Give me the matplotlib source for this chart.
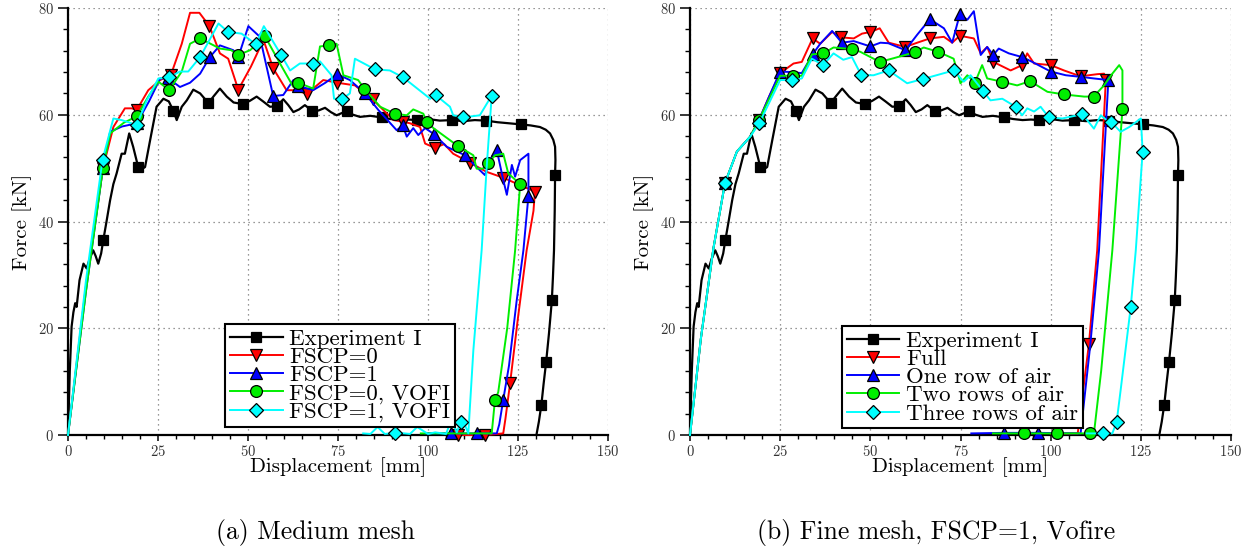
import numpy as np
import matplotlib
matplotlib.use("Agg")
import matplotlib.pyplot as plt
from matplotlib.lines import Line2D
from matplotlib.ticker import MultipleLocator

plt.rcParams['font.family'] = ['cmr10', 'DejaVu Serif']
plt.rcParams['mathtext.fontset'] = 'cm'
plt.rcParams['axes.unicode_minus'] = False
plt.rcParams['axes.formatter.use_mathtext'] = True

# ---- Experiment I (same curve in both panels) ----
exp_x = [0, 0.5, 1, 1.5, 2, 2.4, 3.2, 4.3, 5.2, 6, 7, 7.7, 8.4, 9.2, 9.8, 10.7, 11.7, 12.6, 13.5,
         14.9, 15.8, 17, 18.1, 19.5, 20.5, 21.4, 22.8, 24.6, 26.5, 28, 29.3, 30.2, 31.6, 33, 34.8,
         36.7, 39, 40.5, 42.2, 44.1, 46, 48.5, 50.5, 52.4, 54.2, 56.1, 58, 59.8, 61.2, 62.6, 64.2,
         65.8, 67.9, 69.6, 71.4, 73, 74.6, 77.4, 79.2, 81.1, 84, 87.1, 89.6, 92.2, 94.5, 96.9, 100,
         103.3, 106.6, 109.8, 113, 116.1, 119.3, 122.5, 125.7, 128.5, 131.1, 132.7, 133.9, 134.8,
         135.3, 135.4, 135.3, 135.2, 135, 134.7, 134.4, 133.6, 132.8, 132.1, 131.5, 130.8, 130.2]
exp_y = [0, 12, 20.3, 23, 24.7, 24, 29, 32.1, 31.2, 33, 34.6, 33.5, 32.1, 34, 36.5, 40, 44, 47, 49,
         52.7, 52.7, 56.5, 54, 50.2, 49.8, 50.2, 55.2, 61.5, 63, 62.5, 60.7, 59, 61.5, 62.7, 64.7,
         64, 62.2, 63.5, 64.9, 63.4, 62.3, 62, 62.6, 63.4, 62.5, 61.5, 61.6, 62.9, 61.8, 60.5, 61,
         61.8, 60.7, 60.8, 61.3, 60.5, 59.9, 60.7, 60, 59.6, 59.8, 59.5, 59.2, 59, 59.1, 59, 59.2,
         58.9, 59, 58.8, 59, 58.9, 58.6, 58.4, 58.2, 58, 57.7, 57.2, 56.5, 55.3,
         54, 51.5, 48.8, 42, 34.6, 29.5, 25.2, 19, 13.6, 9.5, 5.7, 2.5, 0.3]
exp_mx = [9.8, 19.5, 29.3, 39, 48.5, 58, 67.9, 77.4, 87.1, 96.9, 106.6, 116.1, 125.7, 135.3, 134.4, 132.8, 131.5]
exp_my = [36.5, 50.2, 60.7, 62.2, 62, 61.6, 60.7, 60.7, 59.5, 59, 59, 58.9, 58.2, 48.8, 25.2, 13.6, 5.7]

# ---- (a) Medium mesh ----
a_red_x = [0, 5, 9.7, 12.6, 15.8, 17.7, 19.1, 22.3, 25.6, 28.6, 31.6, 33.9, 36.5, 39.3, 42.2, 44.5,
           47.3, 50.8, 54.3, 57, 60.7, 63.5, 66.3, 70.9, 74.8, 79.7, 84.6, 90.4, 93, 95, 97.8, 99.2,
           101.9, 104.5, 107, 111.7, 116.3, 120.9, 125.6, 129.7, 129.3, 127.4, 125, 122.8, 121.5,
           120.9, 115.8, 108.4, 107.5]
a_red_y = [0, 28, 50, 57.7, 61.2, 61.2, 60.9, 64.6, 66.5, 67.5, 73.3, 79.1, 79.1, 76.6, 71.5, 70.5,
           64.7, 69, 74, 68.7, 64.6, 64.6, 63.9, 66.5, 66, 65.5, 62.9, 59, 58.7, 58.4, 57.7, 54.6,
           53.8, 54.5, 52.7, 51, 49.3, 48.2, 46.8, 45.6, 42, 34.6, 22, 9.7, 3,
           0.3, 0, 0, 0]
a_red_mx = [9.7, 19.1, 28.6, 39.3, 47.3, 57, 66.3, 74.8, 84.6, 93, 101.9, 111.7, 120.9, 129.7, 122.8, 115.8, 108.4]
a_red_my = [50, 60.9, 67.5, 76.6, 64.7, 68.7, 63.9, 66, 62.9, 58.7, 53.8, 51, 48.2, 45.6, 9.7, 0, 0]

a_blue_x = [0, 5, 9.7, 11.7, 15, 19.1, 22.5, 25.6, 27.9, 31.1, 33.9, 36.7, 39.4, 42.2, 45.9, 47.3,
            50.1, 53.3, 57, 59.8, 62.6, 64, 68.1, 71.5, 74.8, 78.3, 82.5, 86.2, 91.3, 93, 94.1, 95.9,
            97.3, 99.2, 101.8, 105.2, 110.3, 113.5, 115.8, 117.7, 119.1, 120.9, 121.9, 123.3, 124.2,
            125.6, 127.9, 127.9, 126.5, 124.6, 122.5, 120.9, 119.8, 119.1, 113.7, 106.4, 99.2]
a_blue_y = [0, 27, 50, 56.8, 57.8, 58.4, 62.5, 66.8, 66.8, 65.2, 66, 67.7, 70.8, 73, 72.1, 70.8,
            76.6, 74.6, 63.5, 63.7, 66.5, 65.4, 64.6, 66, 67.6, 66.5, 64, 60.9, 57.1, 58, 55.9, 57.5,
            56.2, 57.5, 56.3, 54, 52.4, 50.2, 48.7, 52.1, 53.4, 47.8, 45, 50.6, 48.4,
            51.5, 52.7, 44.8, 34.6, 25, 13, 6.6, 2, 0.3, 0.3, 0.3, 0.3]
a_blue_mx = [9.7, 19.1, 27.9, 39.4, 47.3, 57, 64, 74.8, 82.5, 93, 101.8, 110.3, 119.1, 127.9, 120.9, 113.7, 106.4]
a_blue_my = [50, 58.4, 66.8, 70.8, 70.8, 63.5, 65.4, 67.6, 64, 58, 56.3, 52.4, 53.4, 44.8, 6.6, 0.3, 0.3]

a_green_x = [0, 5, 9.7, 11.7, 15.5, 19.1, 22.3, 25.1, 28.1, 31.6, 33.9, 36.7, 42.2, 45.3, 47.3, 50.6,
             54.7, 59.4, 62.6, 64, 68.1, 70, 72.6, 74.6, 76.5, 80.6, 82.3, 86.7, 90.8, 94.1, 95.9,
             98.7, 99.6, 101.5, 108.4, 112.6, 113.5, 115.2, 116.8, 118.6, 120.9, 122.3, 125.6, 124.2,
             122, 119.5, 118.6, 117.7, 110, 104, 98]
a_green_y = [0, 27, 50, 56.5, 58.5, 59.7, 63.4, 66.2, 64.6, 68.1, 73.3, 74.3, 72.4, 72.1, 71.2, 72.1,
             74.7, 69, 65.2, 66, 64.9, 72.8, 73, 73.3, 67.4, 66.5, 64.9, 61.5, 60.2, 59.9, 61,
             60.2, 58.7, 57.5, 54.1, 52.4, 49.9, 49.9, 50.9, 52.4, 52.7, 49, 47, 34.6,
             20, 8, 6.6, 0.3, 0.3, 0.3, 0.3]
a_green_mx = [9.7, 19.1, 28.1, 36.7, 47.3, 54.7, 64, 72.6, 82.3, 90.8, 99.6, 108.4, 116.8, 125.6, 118.6]
a_green_my = [50, 59.7, 64.6, 74.3, 71.2, 74.7, 66, 73, 64.9, 60.2, 58.7, 54.1, 50.9, 47, 6.6]

a_cyan_x = [0, 5, 9.6, 12.6, 14.9, 19.1, 21.9, 25.1, 28.1, 31.1, 33.4, 36.7, 41.8, 44.5, 48.2, 52.2,
            54.4, 59.2, 61.7, 64.4, 68.1, 70, 73.2, 73.9, 76.2, 78.3, 79.7, 85.3, 89.4, 93.1, 100.6,
            102.1, 106.1, 107, 109.8, 114.4, 117.7, 116.3, 114.9, 112.6, 111.2, 110.2, 109.1, 108,
            106.5, 105, 102, 100, 97, 95, 92, 90.8, 88, 86, 84, 82]
a_cyan_y = [0, 29, 51.6, 59.3, 59, 58.1, 62.7, 66.8, 67, 68.1, 68.1, 70.8, 77.1, 75.5, 75.2, 73.2,
            76.6, 71.2, 68.3, 69.6, 69.6, 70, 67.4, 63, 63, 64, 70.5, 68.5, 68.3, 67, 63,
            63.7, 61.5, 59.9, 59.5, 59.9, 63.6, 50.2, 34.6, 15.9, 0.3, 2, 2.5, 0.5,
            2.8, 0.2, 0.5, 0.2, 1.5, 0.2, 0.4, 0.4, 0.2, 1.5, 0.2, 0.3]
a_cyan_mx = [9.6, 19.1, 28.1, 36.7, 44.5, 52.2, 59.2, 68.1, 76.2, 85.3, 93.1, 102.1, 109.8, 117.7, 109.1, 90.8]
a_cyan_my = [51.6, 58.1, 67, 70.8, 75.5, 73.2, 71.2, 69.6, 63, 68.5, 67, 63.7, 59.5, 63.6, 2.5, 0.4]

# ---- (b) Fine mesh, FSCP=1, Vofire ----
b_red_x = [0, 3, 6.5, 9.7, 13, 16.7, 19.2, 22, 25, 28.7, 31, 34, 36.1, 39.4, 42, 45.4, 47.7, 50, 52.6,
           55.1, 59.7, 63, 66.5, 70.4, 72.7, 74.8, 78.7, 80.6, 82.4, 84.1, 88.9, 92.1, 93.5, 95.4,
           100, 103.7, 108.3, 112.9, 114.8, 115.3, 112.9, 110.6, 107.5, 100]
b_red_y = [0, 18, 35, 47.2, 53.1, 55.9, 59.1, 63.5, 67.8, 69.6, 69.9, 74.3, 73.3, 75.5, 74.5, 74.3, 75.2, 75.5, 76.2,
           73.5, 72.7, 73.5, 74.3, 74.6, 73.5, 74.8, 74.3, 71.5, 72.7, 69.9, 68.3, 69.3, 71.5, 69.6,
           69.3, 68.3, 67.2, 67.6, 67.7, 66.6, 34.6, 17, 0.3, 0.3]
b_red_mx = [9.7, 19.2, 25, 34, 42, 50, 59.7, 66.5, 74.8, 84.1, 92.1, 100, 108.3, 115.3, 110.6]
b_red_my = [47.2, 59.1, 67.8, 74.3, 74.5, 75.5, 72.7, 74.3, 74.8, 69.9, 69.3, 69.3, 67.2, 66.6, 17]

b_blue_x = [0, 3, 6.5, 9.7, 13, 16.7, 19.2, 22, 25, 28, 31, 34, 36.1, 39.4, 42.1, 45.4, 50, 52.8, 55,
            59.7, 63, 66.5, 70.4, 72.7, 74.8, 76.9, 78.7, 80.6, 82.4, 84.1, 85.6, 88.4, 92.1, 94.9,
            100, 104.2, 108.3, 112, 116, 113.4, 111, 108.3, 96.5, 87, 78]
b_blue_y = [0, 18, 35, 47.2, 53.1, 55.9, 59.1, 63.5, 68.1, 68, 67.8, 71.3, 73.3, 75.7, 73.5, 73.8, 72.8, 73.5, 73.4,
            72.1, 75, 77.9, 76.2, 73.5, 78.8, 77.8, 79.4, 71.2, 72.7, 71.2, 72.4, 71.5, 70.8, 69.9,
            68.1, 67.4, 67.1, 66.8, 66.5, 34.6, 17, 0.3, 0.4, 0.4, 0.3]
b_blue_mx = [9.7, 19.2, 25, 34, 42.1, 50, 59.7, 66.5, 74.8, 84.1, 92.1, 100, 108.3, 116, 96.5, 87]
b_blue_my = [47.2, 59.1, 68.1, 71.3, 73.5, 72.8, 72.1, 77.9, 78.8, 71.2, 70.8, 68.1, 67.1, 66.5, 0.4, 0.4]

b_green_x = [0, 3, 6.5, 9.7, 13, 16.7, 19.2, 25, 31, 33.8, 36.9, 39.8, 44.9, 47.2, 52.6, 56.5, 62.3,
             64.8, 68.8, 73.1, 75, 76.9, 79, 81, 82.4, 86.4, 90.7, 94.3, 99.1, 103.7, 109.3, 111.9,
             114.8, 117.1, 119, 119.9, 119.9, 117.1, 114, 112, 110.8, 101.7, 92.6, 84]
b_green_y = [0, 18, 35, 47.2, 53.1, 55.9, 59.1, 67.3, 67.3, 71.3, 71.5, 72.6, 72.3, 71.8, 69.9, 70.6, 71.7,
             72.6, 71.8, 70.5, 65.9, 67.4, 66, 69.3, 66.8, 66.2, 65.5, 66.3, 64.3, 63.8, 63.4, 63.4,
             65.5, 67.7, 69.3, 68.3, 61, 34.6, 12, 0.3, 0.3, 0.3, 0.3, 0.3]
b_green_mx = [9.7, 19.2, 28.5, 36.9, 44.9, 52.6, 62.3, 68.8, 79, 86.4, 94.3, 103.7, 111.9, 119.9, 110.8, 101.7, 92.6]
b_green_my = [47.2, 59.1, 67.3, 71.5, 72.3, 69.9, 71.7, 71.8, 66, 66.2, 66.3, 63.8, 63.4, 61, 0.3, 0.3, 0.3]

b_cyan_x = [0, 3, 6.5, 9.7, 13, 16.7, 19.2, 25, 28.2, 31, 33.8, 36.9, 39.8, 42.5, 44.9, 47.5, 50.9,
            55.1, 60.2, 64.6, 69.4, 73.1, 75.9, 77.8, 81.2, 83.3, 86.6, 90.3, 92.1, 93.5, 95.4, 97.2,
            99.5, 103.2, 108.8, 112, 113.9, 115.5, 116.7, 119.4, 121.8, 125, 125.5, 123.6, 122.2,
            119.4, 118.3, 117.1, 114.5, 110]
b_cyan_y = [0, 18, 35, 47.2, 53.1, 55.9, 58.4, 66.5, 66.5, 66.8, 70.5, 69.3, 71.5, 70.3, 70.8, 67.4, 67.4,
            68.3, 65.9, 66.7, 67.6, 68.3, 66.2, 67.4, 64.5, 62.7, 63, 61.5, 59.9, 61.2, 60.6, 61.5,
            59.5, 59.3, 60.1, 57.4, 59.9, 59, 58.7, 56.8, 57.7, 59.3, 53.1, 34.6, 24,
            8.4, 2.5, 0.3, 0.3, 0.3]
b_cyan_mx = [9.7, 19.2, 28.2, 36.9, 47.5, 55.1, 64.6, 73.1, 81.2, 90.3, 99.5, 108.8, 116.7, 125.5, 122.2, 118.3, 114.5]
b_cyan_my = [47.2, 58.4, 66.5, 69.3, 67.4, 68.3, 66.7, 68.3, 64.5, 61.5, 59.5, 60.1, 58.7, 53.1, 24, 2.5, 0.3]

labels_a = ["Experiment I", "FSCP=0", "FSCP=1", "FSCP=0, VOFI", "FSCP=1, VOFI"]
labels_b = ["Experiment I", "Full", "One row of air", "Two rows of air", "Three rows of air"]

colors = ['black', '#ff0000', '#0000ff', '#00ee00', '#00ffff']
markers = ['s', 'v', '^', 'o', 'D']
msizes = [6.5, 9, 9, 8.5, 7]

series_a = [(exp_x, exp_y, exp_mx, exp_my),
            (a_red_x, a_red_y, a_red_mx, a_red_my),
            (a_blue_x, a_blue_y, a_blue_mx, a_blue_my),
            (a_green_x, a_green_y, a_green_mx, a_green_my),
            (a_cyan_x, a_cyan_y, a_cyan_mx, a_cyan_my)]
series_b = [(exp_x, exp_y, exp_mx, exp_my),
            (b_red_x, b_red_y, b_red_mx, b_red_my),
            (b_blue_x, b_blue_y, b_blue_mx, b_blue_my),
            (b_green_x, b_green_y, b_green_mx, b_green_my),
            (b_cyan_x, b_cyan_y, b_cyan_mx, b_cyan_my)]


def draw_panel(ax, series, labels, legend_anchor):
    handles = []
    for i, (x, y, mx, my) in enumerate(series):
        lw = 1.6 if i == 0 else 1.4
        ax.plot(x, y, color=colors[i], lw=lw, zorder=2 + i, clip_on=False)
        ax.plot(mx, my, linestyle='none', marker=markers[i], ms=msizes[i],
                mfc=colors[i], mec='black', mew=0.9, zorder=3 + i, clip_on=False)
        handles.append(Line2D([], [], color=colors[i], lw=lw, marker=markers[i],
                              ms=msizes[i], mfc=colors[i], mec='black', mew=0.9))

    ax.set_xlim(0, 150)
    ax.set_ylim(0, 80)
    ax.xaxis.set_major_locator(MultipleLocator(25))
    ax.xaxis.set_minor_locator(MultipleLocator(5))
    ax.yaxis.set_major_locator(MultipleLocator(20))
    ax.yaxis.set_minor_locator(MultipleLocator(4))
    ax.grid(True, which='major', color='#777777', linestyle=(0, (1, 3)), lw=0.9)
    ax.set_axisbelow(True)
    for s in ['top', 'right']:
        ax.spines[s].set_visible(False)
    for s in ['left', 'bottom']:
        ax.spines[s].set_linewidth(1.6)
    ax.tick_params(axis='x', which='major', direction='out', length=4.5, width=1.1,
                   labelsize=10.5, pad=2, labelcolor='#333333')
    ax.tick_params(axis='x', which='minor', direction='out', length=3, width=1)
    ax.tick_params(axis='y', which='major', direction='out', length=7, width=1.1,
                   labelsize=10.5, pad=3, labelcolor='#333333')
    ax.tick_params(axis='y', which='minor', direction='out', length=3.5, width=1)

    ax.set_xlabel("Displacement [mm]", fontsize=15)
    ax.set_ylabel("Force [kN]", fontsize=15)
    ax.xaxis.set_label_coords(0.5, -0.052)
    ax.yaxis.set_label_coords(-0.067, 0.5)

    leg = ax.legend(handles, labels, loc='lower right', bbox_to_anchor=legend_anchor,
                    fontsize=16.5, frameon=True, fancybox=False, edgecolor='black',
                    framealpha=1, borderpad=0.2, labelspacing=-0.08, handlelength=2.3,
                    handletextpad=0.3, borderaxespad=0)
    leg.get_frame().set_linewidth(1.5)
    leg.set_zorder(20)


fig = plt.figure(figsize=(12.56, 5.52), dpi=100)
ax1 = fig.add_axes([68 / 1256, 1 - 435 / 552, 540 / 1256, 427 / 552])
ax2 = fig.add_axes([690 / 1256, 1 - 435 / 552, 541 / 1256, 427 / 552])

draw_panel(ax1, series_a, labels_a, (0.717, 0.019))
draw_panel(ax2, series_b, labels_b, (0.726, 0.016))

fig.text(316 / 1256, 1 - 533 / 552, "(a) Medium mesh", fontsize=18.5, ha='center', va='center')
fig.text(936 / 1256, 1 - 533 / 552, "(b) Fine mesh, FSCP=1, Vofire", fontsize=18.5, ha='center', va='center')

fig.savefig("out.png", dpi=100)
